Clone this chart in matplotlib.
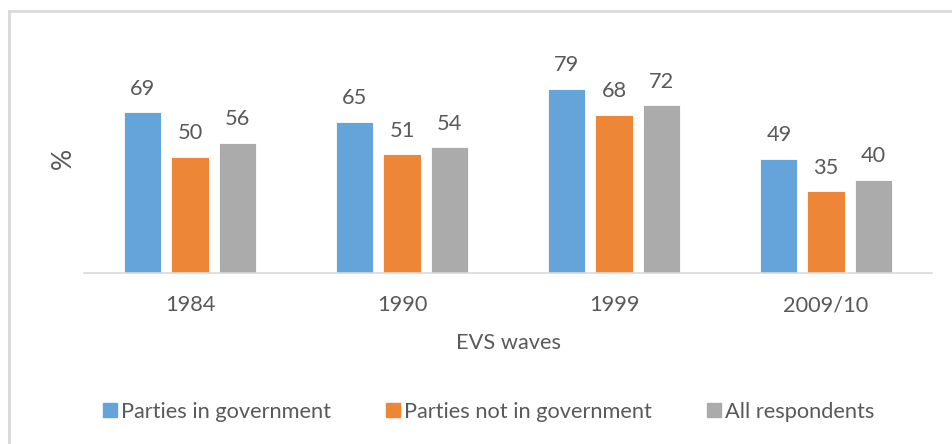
import numpy as np
import matplotlib
matplotlib.use("Agg")
import matplotlib.pyplot as plt
from matplotlib.lines import Line2D

# EVS waves data (%)
waves = ["1984", "1990", "1999", "2009/10"]
in_govt = [69, 65, 79, 49]
not_in_govt = [50, 51, 68, 35]
all_resp = [56, 54, 72, 40]
series_names = ["Parties in government", "Parties not in government", "All respondents"]

colors = ["#65A3DB", "#EE8638", "#ABABAB"]
txt = "#595959"
fs = 15.7

plt.rcParams["font.family"] = ["Lato", "DejaVu Sans"]

fig = plt.figure(figsize=(9.52, 4.44), dpi=100)
ax = fig.add_axes([84 / 952, 1 - 273 / 444, 848 / 952, 233 / 444])

x = np.arange(len(waves))
step = 0.222
width = 0.175
for i, (vals, col) in enumerate(zip([in_govt, not_in_govt, all_resp], colors)):
    pos = x + (i - 1) * step
    ax.bar(pos, vals, width, color=col, edgecolor="white", linewidth=0.6, label=series_names[i])
    for p, v in zip(pos, vals):
        ax.annotate(str(v), (p, v), xytext=(0, 17), textcoords="offset points",
                    ha="center", va="center", fontsize=fs, color=txt)

ax.set_xlim(-0.5, len(waves) - 0.5)
ax.set_ylim(0, 100)
ax.set_yticks([])
ax.set_xticks(x)
ax.set_xticklabels(waves, fontsize=fs, color=txt)
ax.tick_params(axis="x", length=0, pad=16)
for s in ["top", "right", "left"]:
    ax.spines[s].set_visible(False)
ax.spines["bottom"].set_color("#D9D9D9")
ax.spines["bottom"].set_linewidth(1.2)

fig.text(508 / 952, 1 - 343 / 444, "EVS waves", ha="center", va="center", fontsize=fs, color=txt)
fig.text(63 / 952, 1 - 158 / 444, "%", ha="center", va="center", rotation=90, fontsize=19, color=txt)

handles = [Line2D([], [], marker="s", linestyle="", markersize=9.5, color=c) for c in colors]
leg = fig.legend(handles, series_names, loc="center", bbox_to_anchor=(487 / 952, 1 - 412 / 444),
                 ncol=3, frameon=False, fontsize=fs, handletextpad=0.05, columnspacing=2.4,
                 handlelength=0.9)
for t in leg.get_texts():
    t.set_color(txt)

# chart border (light gray)
fig.add_artist(Line2D([9 / 952, 1], [1 - 11 / 444] * 2, color="#D9D9D9", lw=2, transform=fig.transFigure))
fig.add_artist(Line2D([9 / 952] * 2, [0, 1 - 11 / 444], color="#D9D9D9", lw=2, transform=fig.transFigure))

fig.savefig("out.png", dpi=100)
